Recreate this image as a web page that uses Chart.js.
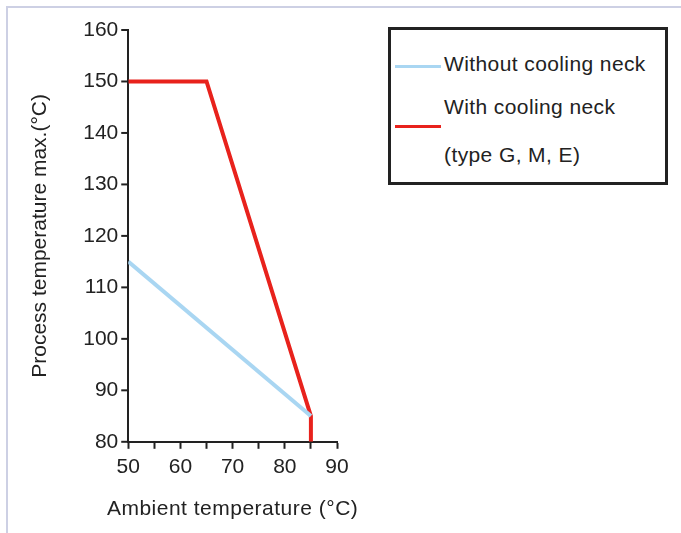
<!DOCTYPE html>
<html>
<head>
<meta charset="utf-8">
<script src="https://cdn.jsdelivr.net/npm/chart.js@4"></script>
<style>
  html, body { margin: 0; padding: 0; background: #fff; }
  body { width: 681px; height: 533px; position: relative; overflow: hidden; font-family: "Liberation Sans", Arial, sans-serif; }
  #frame { position: absolute; left: 6px; top: 6px; right: -10px; bottom: -10px; border-left: 2px solid #cdd0e4; border-top: 2px solid #cdd0e4; }
  #wrap { position: absolute; left: 0; top: 0; width: 370px; height: 533px; }
  #legend { position: absolute; left: 388px; top: 27px; width: 274px; height: 152px; border: 3px solid #222; }
  .swatch { position: absolute; left: 4px; width: 46px; height: 3px; }
  .label { position: absolute; left: 53px; font-size: 21px; letter-spacing: 0.4px; color: #222; white-space: nowrap; line-height: 24px; }
</style>
</head>
<body>
<div id="frame"></div>
<div id="wrap"><canvas id="chart"></canvas></div>
<div id="legend"></div>
<script>
// series
const withoutX = [50, 85];
const withoutY = [115, 85];
const withX = [50, 65, 85, 85];
const withY = [150, 150, 85, 80];

const seriesNames = ['Without cooling neck', 'With cooling neck\n(type G, M, E)'];
const seriesColors = ['#a9d6f2', '#e8221c'];

const xTitle = 'Ambient temperature (°C)';
const yTitle = 'Process temperature max.(°C)';

function toPoints(xs, ys) {
    return xs.map((x, i) => ({ x: x, y: ys[i] }));
}

// y axis ticks: long at the 10s, short at the 5s, drawn from the scale.
// also the x title, which is wider than the plot (chart.js would squeeze it)
const extras = {
    id: 'extras',
    afterDraw(chart) {
        const ctx = chart.ctx;
        const ys = chart.scales.y;
        const area = chart.chartArea;
        ctx.save();
        ctx.strokeStyle = '#222';
        ctx.lineWidth = 2;
        for (const t of ys.ticks) {
            const py = ys.getPixelForValue(t.value);
            const len = t.value % 10 === 0 ? 7 : 3;
            ctx.beginPath();
            ctx.moveTo(area.left, py);
            ctx.lineTo(area.left - len, py);
            ctx.stroke();
        }
        ctx.fillStyle = '#222';
        ctx.font = '21px "Liberation Sans", Arial, sans-serif';
        ctx.letterSpacing = '0.5px';
        ctx.textAlign = 'center';
        ctx.textBaseline = 'middle';
        ctx.fillText(xTitle, (area.left + area.right) / 2, area.bottom + 67);
        ctx.restore();
    }
};

const ctx = document.getElementById('chart').getContext('2d');
new Chart(ctx, {
    type: 'line',
    data: {
        datasets: [
            { label: seriesNames[0], data: toPoints(withoutX, withoutY), borderColor: seriesColors[0], borderWidth: 4, pointRadius: 0, tension: 0 },
            { label: seriesNames[1], data: toPoints(withX, withY), borderColor: seriesColors[1], borderWidth: 4, pointRadius: 0, tension: 0, borderJoinStyle: 'miter' }
        ]
    },
    options: {
        responsive: true,
        maintainAspectRatio: false,
        animation: false,
        layout: { padding: { top: 30, right: 33, left: 28, bottom: 47 } },
        plugins: { legend: { display: false }, tooltip: { enabled: false } },
        scales: {
            x: {
                type: 'linear',
                min: 50, max: 90,
                border: { color: '#222', width: 2 },
                grid: { display: true, drawOnChartArea: false, tickLength: 7, tickColor: '#222', tickWidth: 2 },
                ticks: {
                    stepSize: 5, color: '#222', padding: 6,
                    autoSkip: false, maxRotation: 0, minRotation: 0,
                    font: { family: 'Liberation Sans', size: 21 },
                    callback: v => v % 10 === 0 ? v : ''
                },
                title: { display: false }
            },
            y: {
                min: 80, max: 160,
                border: { color: '#222', width: 2 },
                grid: { display: true, drawOnChartArea: false, drawTicks: true, tickLength: 7, tickColor: 'rgba(0,0,0,0)' },
                ticks: {
                    stepSize: 5, color: '#222', padding: 3,
                    font: { family: 'Liberation Sans', size: 21 },
                    callback: v => v % 10 === 0 ? v : ''
                },
                title: { display: true, text: yTitle, color: '#222', font: { family: 'Liberation Sans', size: 21 }, padding: { top: 0, bottom: 27 } }
            }
        }
    },
    plugins: [extras]
});

// legend box built from the same series names/colours
const legend = document.getElementById('legend');
const rows = [
    { swatchTop: 35, lines: seriesNames[0].split('\n'), top: 22 },
    { swatchTop: 95, lines: seriesNames[1].split('\n'), top: 65 }
];
rows.forEach((r, i) => {
    const sw = document.createElement('div');
    sw.className = 'swatch';
    sw.style.top = r.swatchTop + 'px';
    sw.style.background = seriesColors[i];
    legend.appendChild(sw);
    r.lines.forEach((txt, j) => {
        const lb = document.createElement('div');
        lb.className = 'label';
        lb.style.top = (r.top + j * 48) + 'px';
        lb.textContent = txt;
        legend.appendChild(lb);
    });
});
</script>
</body>
</html>
